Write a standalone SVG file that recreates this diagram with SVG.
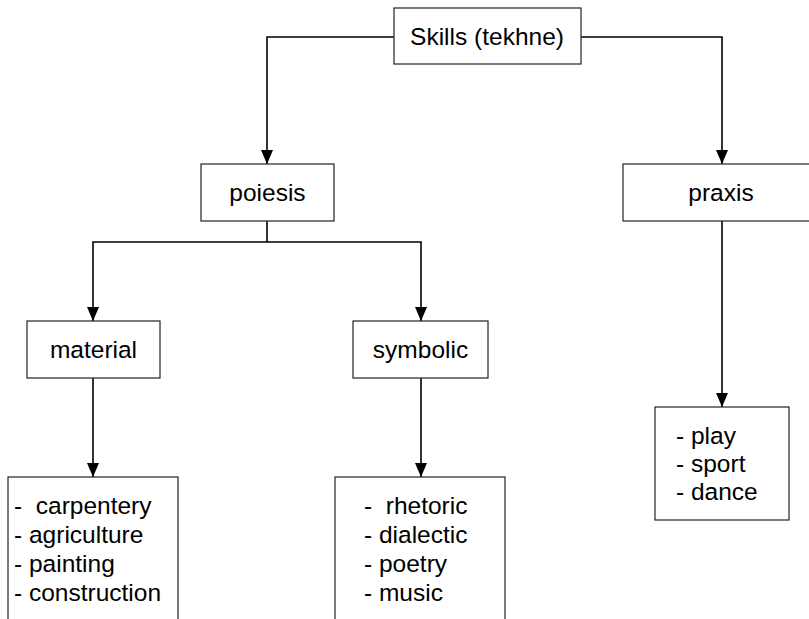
<svg xmlns="http://www.w3.org/2000/svg" width="809" height="619" viewBox="0 0 809 619">
<defs>
<marker id="arr" markerWidth="14" markerHeight="12" refX="14" refY="6" orient="auto" markerUnits="userSpaceOnUse" viewBox="0 0 14 12">
<path d="M0,0 L14,6 L0,12 Z" fill="#000"/>
</marker>
</defs>
<style>
.box{fill:#fff;stroke:#222;stroke-width:1.2}
.t{font-family:"Liberation Sans",Arial,sans-serif;font-size:24.5px;fill:#000}
.c{text-anchor:middle}
.con{fill:none;stroke:#000;stroke-width:1.6}
</style>
<rect width="809" height="619" fill="#fff"/>
<g id="connectors">
<polyline class="con" points="394,37 267,37 267,164" marker-end="url(#arr)"/>
<polyline class="con" points="581,37 722,37 722,164" marker-end="url(#arr)"/>
<polyline class="con" points="267,221 267,242 93,242 93,321" marker-end="url(#arr)"/>
<polyline class="con" points="267,242 421,242 421,321" marker-end="url(#arr)"/>
<line class="con" x1="93" y1="378" x2="93" y2="477" marker-end="url(#arr)"/>
<line class="con" x1="421" y1="378" x2="421" y2="477" marker-end="url(#arr)"/>
<line class="con" x1="722" y1="221" x2="722" y2="407" marker-end="url(#arr)"/>
</g>
<g id="skills">
<rect class="box" x="394" y="8" width="187" height="56"/>
<text class="t c" x="487" y="45">Skills (tekhne)</text>
</g>
<g id="poiesis">
<rect class="box" x="201" y="164" width="133" height="57"/>
<text class="t c" x="267.5" y="201">poiesis</text>
</g>
<g id="praxis">
<rect class="box" x="623" y="164" width="200" height="57"/>
<text class="t c" x="721" y="201">praxis</text>
</g>
<g id="material">
<rect class="box" x="27" y="321" width="133" height="57"/>
<text class="t c" x="93.5" y="358">material</text>
</g>
<g id="symbolic">
<rect class="box" x="353" y="321" width="135" height="57"/>
<text class="t c" x="420.5" y="358">symbolic</text>
</g>
<g id="material-list">
<rect class="box" x="8" y="477" width="170" height="160"/>
<text class="t" x="14" xml:space="preserve"><tspan x="14" y="514">-  carpentery</tspan><tspan x="14" y="543">- agriculture</tspan><tspan x="14" y="572">- painting</tspan><tspan x="14" y="601">- construction</tspan></text>
</g>
<g id="symbolic-list">
<rect class="box" x="335" y="477" width="170" height="160"/>
<text class="t" x="364" xml:space="preserve"><tspan x="364" y="514">-  rhetoric</tspan><tspan x="364" y="543">- dialectic</tspan><tspan x="364" y="572">- poetry</tspan><tspan x="364" y="601">- music</tspan></text>
</g>
<g id="praxis-list">
<rect class="box" x="655" y="407" width="134" height="113"/>
<text class="t" x="676"><tspan x="676" y="444">- play</tspan><tspan x="676" y="472">- sport</tspan><tspan x="676" y="500">- dance</tspan></text>
</g>
</svg>
